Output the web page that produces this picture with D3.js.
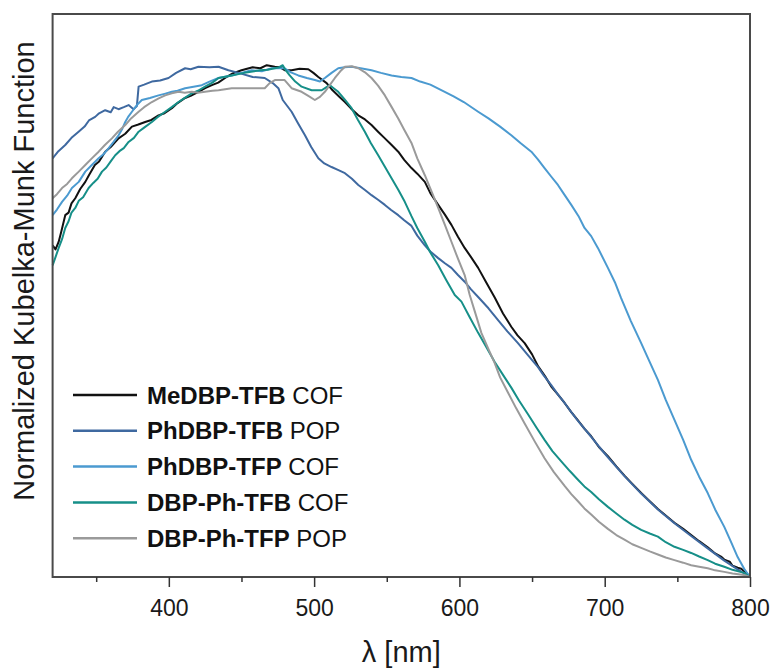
<!DOCTYPE html>
<html>
<head>
<meta charset="utf-8">
<script src="https://cdn.jsdelivr.net/npm/d3@7"></script>
<style>
  body { margin: 0; background: #fff; }
  svg { display: block; font-family: "Liberation Sans", Arial, sans-serif; }
</style>
</head>
<body>
<svg width="773" height="668"></svg>
<script>
// wavelength [nm], normalized K-M value
var meDBP_TFB_COF = [
  [320, 0.648], [322, 0.640], [324.2, 0.655], [326, 0.675], [328.7, 0.707], [331, 0.712],
  [333, 0.730], [335.6, 0.740], [339, 0.758], [342.5, 0.772], [345, 0.785], [349.1, 0.805],
  [352, 0.812], [356.2, 0.831], [360, 0.840], [365.4, 0.857], [370, 0.866], [374.6, 0.880],
  [379, 0.884], [383.7, 0.889], [388, 0.893], [392.9, 0.902], [397, 0.906], [402.1, 0.916],
  [406, 0.926], [411.2, 0.936], [415, 0.940], [420.4, 0.948], [425, 0.955], [429.6, 0.961],
  [434, 0.966], [438.7, 0.975], [444, 0.984], [450, 0.990], [457.7, 0.996], [463, 0.994],
  [467.4, 1.0], [472.9, 0.997], [476.3, 0.996], [480, 0.990], [484.5, 0.990], [490, 0.993],
  [496, 0.992], [499.5, 0.985], [502.9, 0.977], [508.6, 0.965], [512, 0.953], [517.5, 0.938],
  [521.2, 0.928], [525.5, 0.915], [530.4, 0.902], [535, 0.894], [539.5, 0.883], [544, 0.870],
  [548.7, 0.857], [553, 0.845], [557.9, 0.831], [562, 0.815], [567, 0.799], [571, 0.788],
  [576.2, 0.772], [580, 0.750], [585.4, 0.727], [590, 0.708], [594.5, 0.688], [599, 0.665],
  [603.6, 0.643], [608, 0.625], [612.9, 0.604], [618, 0.578], [624.3, 0.546], [630, 0.515],
  [635.7, 0.489], [640, 0.472], [644.9, 0.457], [650, 0.435], [654.1, 0.412], [659, 0.392],
  [663.2, 0.372], [668, 0.356], [672.4, 0.340], [677, 0.322], [681.6, 0.306], [686, 0.290],
  [690.7, 0.275], [696, 0.254], [702.2, 0.236], [708, 0.216], [713.6, 0.198], [719, 0.182],
  [725.1, 0.164], [731, 0.148], [736.6, 0.133], [742, 0.120], [748, 0.106], [754, 0.094],
  [759.5, 0.082], [765, 0.070], [770.9, 0.058], [776, 0.046], [780, 0.040], [782.3, 0.034],
  [786, 0.030], [788, 0.022], [791.5, 0.018], [794, 0.016], [797.3, 0.008], [800, 0.0]
];
var phDBP_TFB_POP = [
  [320, 0.818], [324, 0.832], [328.7, 0.844], [333, 0.858], [337.9, 0.870], [342, 0.880],
  [345, 0.892], [349.3, 0.899], [352, 0.906], [356.2, 0.912], [360, 0.908], [362, 0.918],
  [365.4, 0.914], [369, 0.918], [372.3, 0.922], [375.7, 0.914], [378, 0.920], [379.2, 0.958],
  [383, 0.962], [388.3, 0.968], [394, 0.970], [399.8, 0.975], [405, 0.985], [411.2, 0.994],
  [415, 0.992], [420.4, 0.997], [428, 0.996], [434.2, 0.997], [441, 0.990], [448, 0.985],
  [457.7, 0.977], [466, 0.975], [471.5, 0.965], [475.4, 0.955], [478.4, 0.932], [484.5, 0.909],
  [489, 0.886], [493.7, 0.863], [498, 0.840], [502.9, 0.818], [507, 0.808], [512, 0.801],
  [516, 0.796], [521.2, 0.789], [526, 0.778], [530.4, 0.766], [535, 0.756], [539.5, 0.746],
  [544, 0.737], [548.7, 0.727], [553, 0.717], [557.9, 0.707], [562, 0.697], [567, 0.686],
  [571, 0.667], [576.2, 0.648], [580, 0.636], [585.4, 0.623], [590, 0.613], [594.5, 0.604],
  [599, 0.590], [603.6, 0.577], [608, 0.562], [612.9, 0.547], [620, 0.525], [626.6, 0.502],
  [633, 0.480], [640.3, 0.457], [647, 0.434], [654.1, 0.410], [658, 0.394], [663.2, 0.375],
  [668, 0.356], [672.4, 0.340], [677, 0.322], [681.6, 0.305], [690.7, 0.274], [696, 0.255],
  [702.2, 0.234], [713.6, 0.197], [725.1, 0.163], [736.6, 0.132], [748, 0.105],
  [759.5, 0.080], [770.9, 0.056], [782.3, 0.032], [791.5, 0.015], [800, 0.0]
];
var phDBP_TFP_COF = [
  [320, 0.707], [323, 0.718], [326.5, 0.733], [330, 0.745], [333.3, 0.760], [338, 0.772],
  [342.5, 0.792], [347, 0.805], [351.7, 0.818], [355, 0.826], [358.6, 0.838], [362, 0.850],
  [365.4, 0.863], [368, 0.876], [370, 0.889], [372, 0.899], [374.6, 0.909], [378, 0.922],
  [381.4, 0.932], [387, 0.936], [392.9, 0.941], [397, 0.944], [402.1, 0.948], [406, 0.950],
  [411.2, 0.955], [417, 0.958], [422.7, 0.961], [428, 0.968], [434.2, 0.975], [443.3, 0.980],
  [450, 0.985], [457, 0.990], [464, 0.988], [470.8, 0.994], [479.7, 0.994], [484, 0.986],
  [489.1, 0.980], [495, 0.975], [500.5, 0.971], [504, 0.968], [507.4, 0.975], [512, 0.985],
  [516.6, 0.994], [521, 0.996], [525.8, 0.997], [532, 0.994], [539.5, 0.990], [546, 0.985],
  [553.3, 0.980], [560, 0.977], [567, 0.975], [573, 0.968], [580, 0.962], [589.9, 0.948],
  [596, 0.939], [603, 0.928], [612.9, 0.909], [620, 0.896], [628, 0.880], [635.7, 0.863],
  [642, 0.848], [649.5, 0.831], [654, 0.816], [658.6, 0.799], [663, 0.783], [667.8, 0.766],
  [672, 0.748], [677, 0.727], [682, 0.705], [686.1, 0.682], [690.7, 0.666], [695.3, 0.643],
  [702.2, 0.604], [707, 0.576], [711.3, 0.545], [718, 0.500], [725.1, 0.457], [730, 0.426],
  [736.6, 0.385], [742, 0.346], [748, 0.307], [754, 0.268], [759.5, 0.229], [765, 0.196],
  [770.9, 0.164], [776, 0.132], [782.3, 0.098], [787, 0.068], [791.5, 0.039], [796, 0.016],
  [800, 0.0]
];
var dbp_Ph_TFB_COF = [
  [320, 0.609], [322, 0.625], [324.2, 0.643], [326.5, 0.660], [328.7, 0.682], [331, 0.695],
  [333, 0.712], [335.6, 0.721], [338, 0.735], [341, 0.742], [344.8, 0.760], [348, 0.770],
  [351, 0.778], [354, 0.792], [357, 0.800], [360, 0.812], [363.1, 0.824], [366, 0.832],
  [369, 0.838], [372.3, 0.850], [376, 0.858], [379.2, 0.870], [383, 0.878], [388.3, 0.889],
  [392, 0.898], [397.5, 0.909], [402, 0.918], [406.7, 0.928], [411, 0.936], [415.8, 0.945],
  [420, 0.950], [424.9, 0.958], [430, 0.966], [434.2, 0.975], [443.3, 0.980], [452, 0.985],
  [462.5, 0.990], [468, 0.991], [472.9, 0.994], [476, 0.996], [478.4, 1.0], [480, 0.992],
  [483.2, 0.980], [487, 0.968], [491.4, 0.958], [498.3, 0.951], [505.2, 0.951], [508, 0.956],
  [510.7, 0.961], [513, 0.956], [516.6, 0.948], [521, 0.933], [525.8, 0.916], [530, 0.894],
  [534.9, 0.870], [539, 0.848], [544.1, 0.824], [549, 0.800], [553.3, 0.779], [558, 0.756],
  [562.4, 0.733], [567, 0.705], [571, 0.682], [576.2, 0.655], [580, 0.634], [585.4, 0.609],
  [591, 0.580], [596.8, 0.551], [601.4, 0.538], [607, 0.508], [612.9, 0.477], [618, 0.452],
  [624.3, 0.420], [630, 0.395], [635.7, 0.370], [641, 0.345], [647.2, 0.318], [653, 0.292],
  [658.6, 0.268], [664, 0.246], [670.1, 0.226], [676, 0.207], [681.6, 0.190], [686, 0.177],
  [690.7, 0.166], [696, 0.152], [702.2, 0.137], [708, 0.124], [713.6, 0.112], [719, 0.102],
  [725.1, 0.092], [731, 0.085], [736.6, 0.079], [742, 0.068], [748, 0.059], [754, 0.053],
  [759.5, 0.047], [765, 0.040], [770.9, 0.033], [776, 0.026], [782.3, 0.020], [788, 0.014],
  [795.9, 0.008], [800, 0.0]
];
var dbp_Ph_TFP_POP = [
  [320, 0.740], [323, 0.748], [326.5, 0.760], [330, 0.768], [333.3, 0.779], [338, 0.792],
  [342.5, 0.805], [347, 0.818], [351.7, 0.831], [356, 0.844], [360.8, 0.857], [365, 0.870],
  [370, 0.883], [374, 0.896], [379.2, 0.909], [383, 0.918], [388.3, 0.928], [393, 0.935],
  [397.5, 0.941], [402, 0.945], [406.7, 0.948], [411, 0.946], [415.8, 0.948], [420, 0.946],
  [424.9, 0.948], [430, 0.950], [434.2, 0.951], [443.3, 0.955], [455, 0.955], [466, 0.955],
  [469.4, 0.965], [473, 0.971], [479.7, 0.971], [484.5, 0.955], [491.4, 0.948], [496, 0.940],
  [500.5, 0.932], [504, 0.938], [507.4, 0.948], [511, 0.962], [514.3, 0.975], [518, 0.988],
  [521.2, 0.997], [526, 0.998], [530.4, 0.994], [535, 0.986], [539.5, 0.975], [544, 0.960],
  [548.7, 0.941], [553, 0.920], [557.9, 0.896], [562, 0.874], [567, 0.848], [571, 0.818],
  [576.2, 0.785], [581, 0.752], [585.4, 0.721], [590, 0.688], [594.5, 0.655], [599, 0.622],
  [603.6, 0.590], [607.1, 0.551], [611, 0.515], [615.1, 0.477], [620, 0.445], [624.3, 0.418],
  [628, 0.390], [633.5, 0.360], [639, 0.330], [644.9, 0.300], [652, 0.264], [658.6, 0.232],
  [665, 0.205], [672.4, 0.178], [677, 0.162], [681.6, 0.148], [686, 0.134], [690.7, 0.122],
  [696, 0.108], [702.2, 0.094], [708, 0.082], [713.6, 0.073], [719, 0.064], [725.1, 0.057],
  [731, 0.050], [736.6, 0.044], [742, 0.038], [748, 0.033], [754, 0.028], [759.5, 0.023],
  [765, 0.020], [770.9, 0.017], [776, 0.013], [782.3, 0.010], [788, 0.007], [795.9, 0.004],
  [800, 0.0]
];

var seriesData = [meDBP_TFB_COF, phDBP_TFB_POP, phDBP_TFP_COF, dbp_Ph_TFB_COF, dbp_Ph_TFP_POP];
var seriesBold = ["MeDBP-TFB", "PhDBP-TFB", "PhDBP-TFP", "DBP-Ph-TFB", "DBP-Ph-TFP"];
var seriesKind = ["COF", "POP", "COF", "COF", "POP"];
var seriesColors = ["#111111", "#3f69a0", "#4b9ad0", "#168f88", "#9a9a9a"];

var xMajorTicks = [400, 500, 600, 700, 800];
var xMinorTicks = [350, 450, 550, 650, 750];
var xDomain = [320, 800];
var yDomain = [0, 1.1];

// plot box (window.top is read-only, so no "top" here)
var svg = d3.select("svg"),
  plotLeft = 52.6,
  plotTop = 14,
  plotRight = 750,
  plotBottom = 577;

var xScale = d3.scaleLinear().domain(xDomain).range([plotLeft, plotRight]);
var yScale = d3.scaleLinear().domain(yDomain).range([plotBottom, plotTop]);

// curves
var line = d3
  .line()
  .x(function (d) { return xScale(d[0]); })
  .y(function (d) { return yScale(d[1]); });

svg
  .append("g")
  .selectAll("path")
  .data(seriesData)
  .enter()
  .append("path")
  .attr("d", line)
  .attr("fill", "none")
  .attr("stroke", function (d, i) { return seriesColors[i]; })
  .attr("stroke-width", 2)
  .attr("stroke-linejoin", "round");

// frame
svg
  .append("rect")
  .attr("x", plotLeft)
  .attr("y", plotTop)
  .attr("width", plotRight - plotLeft)
  .attr("height", plotBottom - plotTop)
  .attr("fill", "none")
  .attr("stroke", "#4a4a4a")
  .attr("stroke-width", 2);

// x axis, ticks point down
var xAxis = svg
  .append("g")
  .attr("transform", "translate(0," + plotBottom + ")")
  .call(d3.axisBottom(xScale).tickValues(xMajorTicks).tickSize(10).tickPadding(13));
xAxis.select(".domain").remove();
xAxis.selectAll("line").attr("stroke", "#333").attr("stroke-width", 1.5);
xAxis
  .selectAll("text")
  .attr("fill", "#1a1a1a")
  .style("font-family", "'Liberation Sans', Arial, sans-serif")
  .style("font-size", "23px");

var xMinor = svg
  .append("g")
  .attr("transform", "translate(0," + plotBottom + ")")
  .call(d3.axisBottom(xScale).tickValues(xMinorTicks).tickSize(5).tickFormat(""));
xMinor.select(".domain").remove();
xMinor.selectAll("line").attr("stroke", "#333").attr("stroke-width", 1.5);

// axis titles
svg
  .append("text")
  .attr("x", (plotLeft + plotRight) / 2)
  .attr("y", 662)
  .attr("text-anchor", "middle")
  .style("font-size", "29px")
  .attr("fill", "#1a1a1a")
  .text("λ [nm]");

svg
  .append("text")
  .attr("text-anchor", "middle")
  .attr("transform", "translate(34,271)rotate(-90)")
  .style("font-size", "29px")
  .attr("fill", "#1a1a1a")
  .text("Normalized Kubelka-Munk Function");

// legend
var legend = svg
  .append("g")
  .selectAll("g")
  .data(seriesBold)
  .enter()
  .append("g")
  .attr("transform", function (d, i) { return "translate(0," + (395 + i * 35.8) + ")"; });

legend
  .append("line")
  .attr("x1", 73)
  .attr("x2", 137)
  .attr("stroke", function (d, i) { return seriesColors[i]; })
  .attr("stroke-width", 2.5);

var legendText = legend
  .append("text")
  .attr("x", 147)
  .attr("y", 8.5)
  .style("font-size", "24px")
  .attr("fill", "#111");
legendText.append("tspan").style("font-weight", "bold").text(function (d) { return d; });
legendText.append("tspan").text(function (d, i) { return " " + seriesKind[i]; });
</script>
</body>
</html>
